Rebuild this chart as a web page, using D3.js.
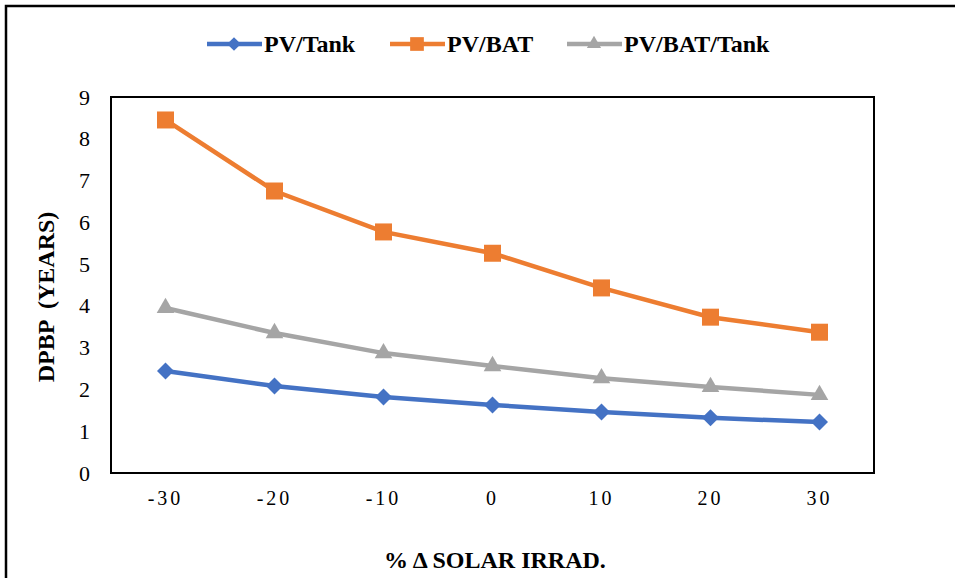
<!DOCTYPE html>
<html>
<head>
<meta charset="utf-8">
<script src="https://cdn.jsdelivr.net/npm/d3@7"></script>
<style>
  body { margin: 0; background: #fff; }
</style>
</head>
<body>
<svg id="chart" width="955" height="578"></svg>
<script>
// chart data
const categories = ["-30", "-20", "-10", "0", "10", "20", "30"];
const pvTank = [2.44, 2.08, 1.82, 1.63, 1.46, 1.32, 1.22];
const pvBat = [8.45, 6.75, 5.77, 5.26, 4.43, 3.73, 3.37];
const pvBatTank = [3.95, 3.35, 2.87, 2.56, 2.27, 2.06, 1.87];
const yTicks = [0, 1, 2, 3, 4, 5, 6, 7, 8, 9];

const FONT = "'Liberation Serif', 'DejaVu Serif', serif";

// diamond = square turned 45deg
const diamond = {
  draw(ctx, size) {
    const r = Math.sqrt(size) / 2 * Math.SQRT2;
    ctx.moveTo(0, -r); ctx.lineTo(r, 0); ctx.lineTo(0, r); ctx.lineTo(-r, 0); ctx.closePath();
  }
};

const series = [
  { name: "PV/Tank", values: pvTank, color: "#4472c4", symbol: diamond, size: 144 },
  { name: "PV/BAT", values: pvBat, color: "#ed7d31", symbol: d3.symbolSquare, size: 289 },
  { name: "PV/BAT/Tank", values: pvBatTank, color: "#a5a5a5", symbol: d3.symbolTriangle, size: 135 }
];

const svg = d3.select("#chart").attr("font-family", FONT);
const margin = { left: 111, top: 97, right: 874, bottom: 473 };

// outer frame (only top/left visible)
svg.append("rect")
  .attr("x", 6).attr("y", 6)
  .attr("width", 1200).attr("height", 1200)
  .attr("fill", "none").attr("stroke", "#000").attr("stroke-width", 2.5);

const x = d3.scaleBand().domain(categories).range([margin.left, margin.right]);
const y = d3.scaleLinear().domain([0, 9]).range([margin.bottom, margin.top]);

// plot border
svg.append("rect")
  .attr("x", margin.left).attr("y", margin.top)
  .attr("width", margin.right - margin.left)
  .attr("height", margin.bottom - margin.top)
  .attr("fill", "none").attr("stroke", "#000").attr("stroke-width", 2);

// y axis labels
const yAxis = svg.append("g")
  .attr("transform", `translate(${margin.left},0)`)
  .call(d3.axisLeft(y).tickValues(yTicks).tickSize(0).tickPadding(21));
yAxis.attr("font-family", FONT);
yAxis.select(".domain").remove();
yAxis.selectAll("text").attr("font-size", 22).attr("fill", "#000");

// x axis labels
const xAxis = svg.append("g")
  .attr("transform", `translate(0,${margin.bottom})`)
  .call(d3.axisBottom(x).tickSize(0).tickPadding(18));
xAxis.attr("font-family", FONT);
xAxis.select(".domain").remove();
xAxis.selectAll("text").attr("font-size", 20).attr("fill", "#000")
  .attr("letter-spacing", 3);

// axis titles
svg.append("text")
  .attr("transform", "translate(54,297) rotate(-90)")
  .attr("text-anchor", "middle")
  .attr("font-size", 24).attr("font-weight", "bold")
  .style("white-space", "pre")
  .text("DPBP  (YEARS)");

svg.append("text")
  .attr("x", 495).attr("y", 568)
  .attr("text-anchor", "middle")
  .attr("font-size", 24).attr("font-weight", "bold")
  .text("% \u0394 SOLAR IRRAD.");

// lines + markers
const line = d3.line()
  .x((d, i) => x(categories[i]) + x.bandwidth() / 2)
  .y(d => y(d));

series.forEach(s => {
  svg.append("path")
    .attr("d", line(s.values))
    .attr("fill", "none")
    .attr("stroke", s.color)
    .attr("stroke-width", 4.5);
  svg.selectAll(null)
    .data(s.values)
    .enter()
    .append("path")
    .attr("d", d3.symbol().type(s.symbol).size(s.size))
    .attr("transform", (d, i) => `translate(${x(categories[i]) + x.bandwidth() / 2},${y(d)})`)
    .attr("fill", s.color);
});

// legend
const legendX = [207, 390, 567];
series.forEach((s, i) => {
  const g = svg.append("g").attr("transform", `translate(${legendX[i]},44)`);
  g.append("line")
    .attr("x1", 0).attr("x2", 55)
    .attr("stroke", s.color).attr("stroke-width", 4.5);
  g.append("path")
    .attr("d", d3.symbol().type(s.symbol).size(s.size * 0.65))
    .attr("transform", "translate(27,0)")
    .attr("fill", s.color);
  g.append("text")
    .attr("x", 57).attr("y", 8)
    .attr("font-size", 24).attr("font-weight", "bold")
    .text(s.name);
});
</script>
</body>
</html>
